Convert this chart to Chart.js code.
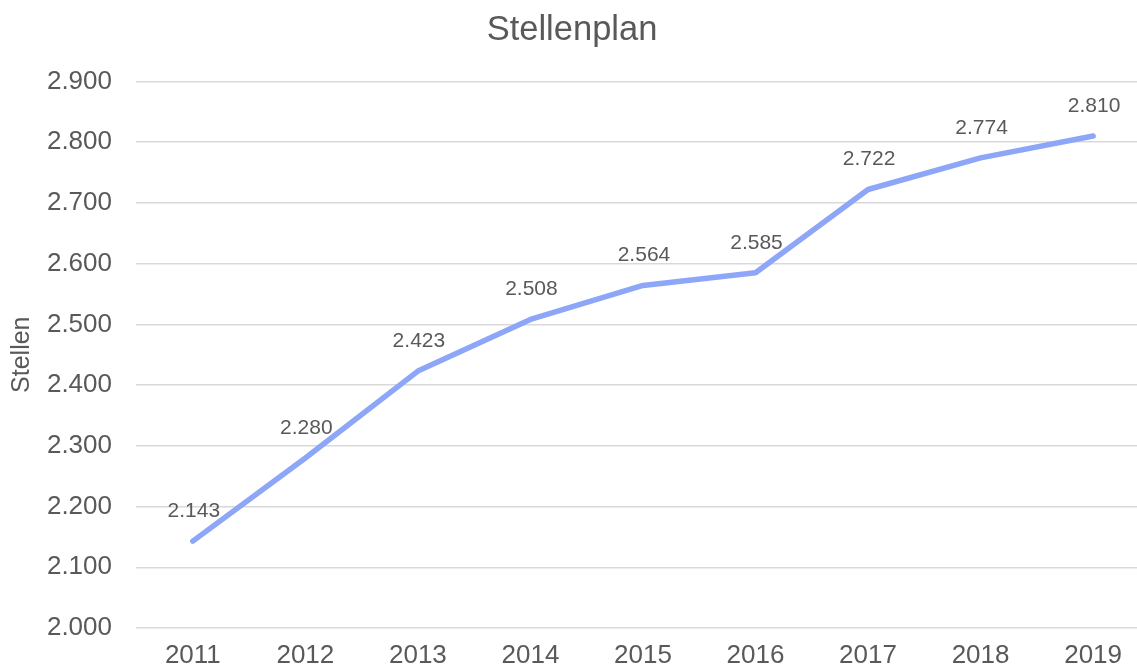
<!DOCTYPE html>
<html>
<head>
<meta charset="utf-8">
<script src="https://cdn.jsdelivr.net/npm/chart.js@4"></script>
<style>
  html, body { margin: 0; padding: 0; background: #fff; }
  canvas { display: block; }
</style>
</head>
<body>
<canvas id="chart" width="1137" height="670"></canvas>
<script>
// Chart data
const years = [2011, 2012, 2013, 2014, 2015, 2016, 2017, 2018, 2019];
const stellen = [2143, 2280, 2423, 2508, 2564, 2585, 2722, 2774, 2810];

const textColor = '#595959';
const fontFamily = '"Liberation Sans", Arial, sans-serif';

// German number format with dot as thousands separator
function fmt(v) {
    return String(Math.round(v)).replace(/\B(?=(\d{3})+(?!\d))/g, '.');
}

// Draw value labels above each point
const valueLabels = {
    id: 'valueLabels',
    afterDatasetsDraw(chart) {
        const ctx = chart.ctx;
        const meta = chart.getDatasetMeta(0);
        ctx.save();
        ctx.font = '21px ' + fontFamily;
        ctx.fillStyle = textColor;
        ctx.textAlign = 'center';
        ctx.textBaseline = 'middle';
        meta.data.forEach((pt, i) => {
            ctx.fillText(fmt(stellen[i]), pt.x + 1, pt.y - 30);
        });
        ctx.restore();
    }
};

const ctx = document.getElementById('chart').getContext('2d');
new Chart(ctx, {
    type: 'line',
    data: {
        datasets: [{
            label: 'Stellen',
            data: years.map((y, i) => ({ x: y, y: stellen[i] })),
            borderColor: '#8ea6f7',
            borderWidth: 5.5,
            borderCapStyle: 'round',
            borderJoinStyle: 'round',
            pointRadius: 0,
            tension: 0,
            fill: false
        }]
    },
    options: {
        responsive: false,
        animation: false,
        layout: { padding: { left: 7, right: 0, top: 0, bottom: 0 } },
        plugins: {
            legend: { display: false },
            tooltip: { enabled: false },
            title: {
                display: true,
                text: 'Stellenplan',
                color: textColor,
                font: { family: fontFamily, size: 34.5, weight: 'normal', lineHeight: 1.2 },
                padding: { top: 10, bottom: 30 }
            }
        },
        scales: {
            x: {
                type: 'linear',
                min: 2010.495,
                max: 2019.39,
                afterBuildTicks: scale => {
                    scale.ticks = years.map(v => ({ value: v }));
                },
                afterFit: scale => { scale.height = 42; },
                grid: { display: false, drawTicks: false },
                border: { display: false },
                ticks: {
                    color: textColor,
                    font: { family: fontFamily, size: 26 },
                    padding: 12,
                    callback: v => String(v)
                }
            },
            y: {
                min: 2000,
                max: 2900,
                afterFit: scale => { scale.width = 129; },
                grid: { color: '#d9d9d9', lineWidth: 1.5, drawTicks: false },
                border: { display: false },
                ticks: {
                    stepSize: 100,
                    color: textColor,
                    font: { family: fontFamily, size: 26 },
                    padding: 24,
                    callback: v => fmt(v)
                },
                title: {
                    display: true,
                    text: 'Stellen',
                    color: textColor,
                    font: { family: fontFamily, size: 25 },
                    padding: 0
                }
            }
        }
    },
    plugins: [valueLabels]
});
</script>
</body>
</html>
